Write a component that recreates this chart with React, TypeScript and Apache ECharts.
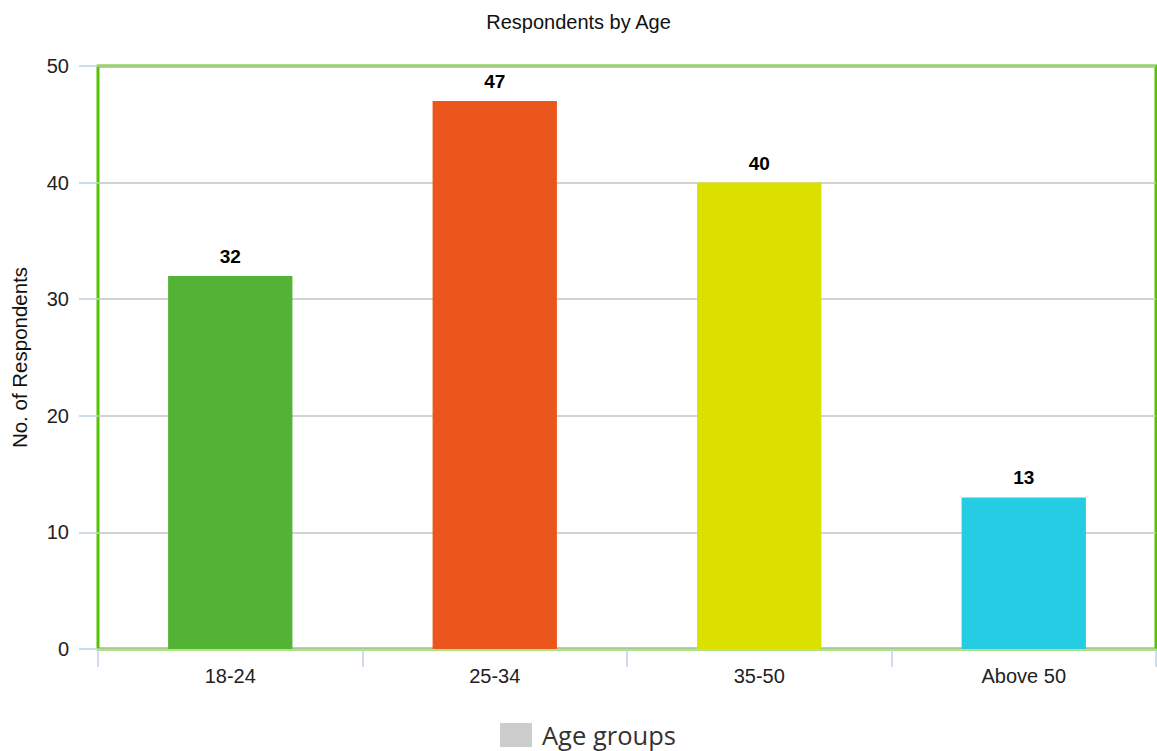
import React, { useEffect, useRef } from "react";
import * as echarts from "echarts";

const categories = ["18-24", "25-34", "35-50", "Above 50"];
const values = [32, 47, 40, 13];
const barColors = ["#53b335", "#eb561d", "#dce000", "#26cce3"];
const seriesName = "Age groups";

export default function App() {
  const ref = useRef<HTMLDivElement>(null);
  useEffect(() => {
    document.body.style.margin = "0";
    const chart = echarts.init(ref.current!, null, { renderer: "svg" });
    chart.setOption({
      animation: false,
      backgroundColor: "#ffffff",
      title: {
        text: "Respondents by Age",
        left: "center",
        top: 7,
        textStyle: { fontFamily: "Liberation Sans", fontSize: 20, fontWeight: "normal", color: "#111" },
      },
      legend: {
        bottom: 3,
        left: 500,
        padding: 0,
        icon: "rect",
        itemWidth: 32,
        itemHeight: 24,
        itemGap: 10,
        data: [{ name: seriesName, itemStyle: { color: "#cccccc" } }],
        textStyle: { fontFamily: "Open Sans", fontSize: 25.5, color: "#333", padding: [0, 0, 0, 5] },
      },
      grid: {
        left: 98,
        right: 1,
        top: 66,
        bottom: 102,
        show: true,
        borderColor: "#55c400",
        borderWidth: 3,
      },
      xAxis: {
        type: "category",
        data: categories,
        axisLine: { show: true, lineStyle: { color: "#c0d0e0", width: 1 } },
        axisTick: { show: true, length: 18, lineStyle: { color: "#c0d0e0", width: 1.5 } },
        axisLabel: { margin: 17, fontFamily: "Liberation Sans", fontSize: 20, color: "#222" },
        splitLine: { show: false },
      },
      yAxis: {
        type: "value",
        min: 0,
        max: 50,
        interval: 10,
        name: "No. of Respondents",
        nameLocation: "middle",
        nameGap: 68,
        nameTextStyle: { fontFamily: "Liberation Sans", fontSize: 20.5, color: "#111" },
        axisLine: { show: false },
        axisTick: { show: true, length: 19, lineStyle: { color: "#c0d0e0", width: 1.5 } },
        axisLabel: { margin: 29, fontFamily: "Liberation Sans", fontSize: 20, color: "#222" },
        splitLine: { show: true, lineStyle: { color: "#c4c4c4", width: 1.5 } },
      },
      series: [
        {
          name: seriesName,
          type: "bar",
          barWidth: "47%",
          itemStyle: { color: "#cccccc" },
          data: values.map((v, i) => ({ value: v, itemStyle: { color: barColors[i] } })),
          label: {
            show: true,
            position: "top",
            distance: 10,
            fontFamily: "Liberation Sans",
            fontSize: 19,
            fontWeight: "bold",
            color: "#000",
          },
        },
      ],
    });
    return () => chart.dispose();
  }, []);
  return <div ref={ref} style={{ position: "absolute", left: 0, top: 0, width: 1157, height: 751 }} />;
}
